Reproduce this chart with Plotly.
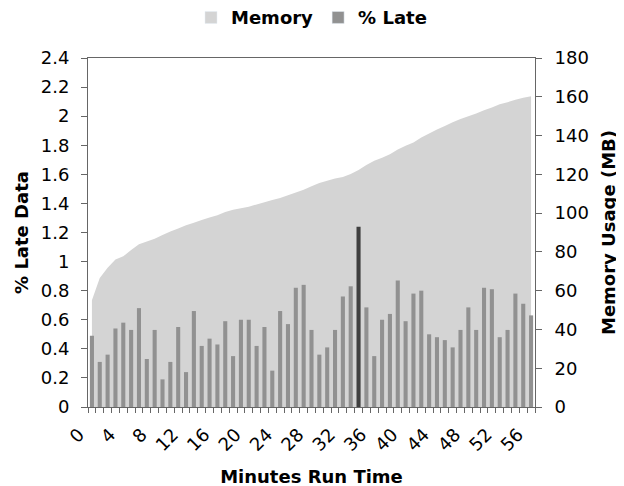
import plotly.graph_objects as go

minutes = list(range(57))
late_pct = [0.49, 0.31, 0.36, 0.54, 0.58, 0.53, 0.68, 0.33, 0.53, 0.19,
            0.31, 0.55, 0.24, 0.66, 0.42, 0.47, 0.43, 0.59, 0.35, 0.60,
            0.60, 0.42, 0.55, 0.25, 0.66, 0.57, 0.82, 0.84, 0.53, 0.36,
            0.41, 0.53, 0.76, 0.83, 1.24, 0.685, 0.35, 0.60, 0.64, 0.87,
            0.59, 0.78, 0.80, 0.50, 0.48, 0.46, 0.41, 0.53, 0.685, 0.53,
            0.82, 0.81, 0.48, 0.53, 0.78, 0.71, 0.63]
memory_mb = [55, 66.5, 71.8, 76.1, 77.7, 81, 84, 85.3, 86.8, 88.7,
             90.5, 92, 93.8, 95, 96.4, 97.7, 98.9, 100.6, 101.7, 102.5,
             103.3, 104.5, 105.6, 106.7, 107.8, 109.2, 110.6, 112.1, 113.8, 115.5,
             116.7, 117.8, 118.6, 120.2, 122.2, 124.8, 127.0, 128.5, 130.4, 132.8,
             134.7, 136.4, 139.0, 141.0, 143.1, 144.9, 146.8, 148.5, 149.9, 151.4,
             153.0, 154.5, 156.1, 157.2, 158.5, 159.5, 160.3]
highlight_minute = 34
x_tick_labels = list(range(0, 57, 4))

MEM_COLOR = "#d4d4d4"
BAR_COLOR = "#919191"
HI_COLOR = "#3f3f3f"
AXIS_COLOR = "#666666"
FONT = "DejaVu Sans"
FS = 18

bar_colors = [HI_COLOR if m == highlight_minute else BAR_COLOR for m in minutes]

fig = go.Figure()
fig.add_trace(go.Scatter(x=minutes, y=memory_mb, mode="none", fill="tozeroy",
                         fillcolor=MEM_COLOR, yaxis="y", showlegend=False,
                         hoverinfo="skip"))
fig.add_trace(go.Bar(x=minutes, y=late_pct, marker=dict(color=bar_colors, line_width=0),
                     width=0.52, yaxis="y2", showlegend=False))
# legend entries
fig.add_trace(go.Bar(x=[None], y=[None], name="Memory", marker_color=MEM_COLOR, yaxis="y2"))
fig.add_trace(go.Bar(x=[None], y=[None], name="% Late", marker_color=BAR_COLOR, yaxis="y2"))

fig.update_layout(
    width=624, height=486,
    margin=dict(l=80, r=97, t=50, b=86.5, autoexpand=False),
    paper_bgcolor="white", plot_bgcolor="white",
    barmode="overlay",
    font=dict(family=FONT, size=FS, color="black"),
    legend=dict(orientation="h", x=0.5, xanchor="center", y=0.98, yanchor="middle",
                yref="container", font=dict(size=FS, family=FONT, weight="bold"),
                itemwidth=30, traceorder="normal"),
    xaxis=dict(range=[-0.5, 56.5], tickmode="array", tickvals=x_tick_labels,
               ticktext=[str(v) for v in x_tick_labels], tickangle=-45,
               ticks="", showline=True, linecolor=AXIS_COLOR, linewidth=1, mirror=True,
               showgrid=False, zeroline=False, automargin=False,
               ticklabelstandoff=9, ticklabelshift=-13,
               minor=dict(tickmode="linear", tick0=-0.5, dtick=1, ticks="outside",
                          ticklen=5, tickcolor=AXIS_COLOR, showgrid=False),
               title=dict(text="Minutes Run Time", font=dict(size=FS, weight="bold"),
                          standoff=16)),
    yaxis=dict(range=[0, 180], dtick=20, side="right", ticks="outside", ticklen=6,
               tickcolor=AXIS_COLOR, showline=True, linecolor=AXIS_COLOR,
               showgrid=False, zeroline=False, automargin=False, ticklabelstandoff=9,
               title=dict(text="Memory Usage (MB)", font=dict(size=FS, weight="bold"),
                          standoff=14)),
    yaxis2=dict(range=[0, 2.4], dtick=0.2, side="left", overlaying="y",
                ticks="outside", ticklen=6, tickcolor=AXIS_COLOR, showline=True,
                linecolor=AXIS_COLOR, showgrid=False, zeroline=False, automargin=False,
                ticklabelstandoff=8,
                title=dict(text="% Late Data", font=dict(size=FS, weight="bold"),
                           standoff=7)),
)

fig.write_html("out.html")
